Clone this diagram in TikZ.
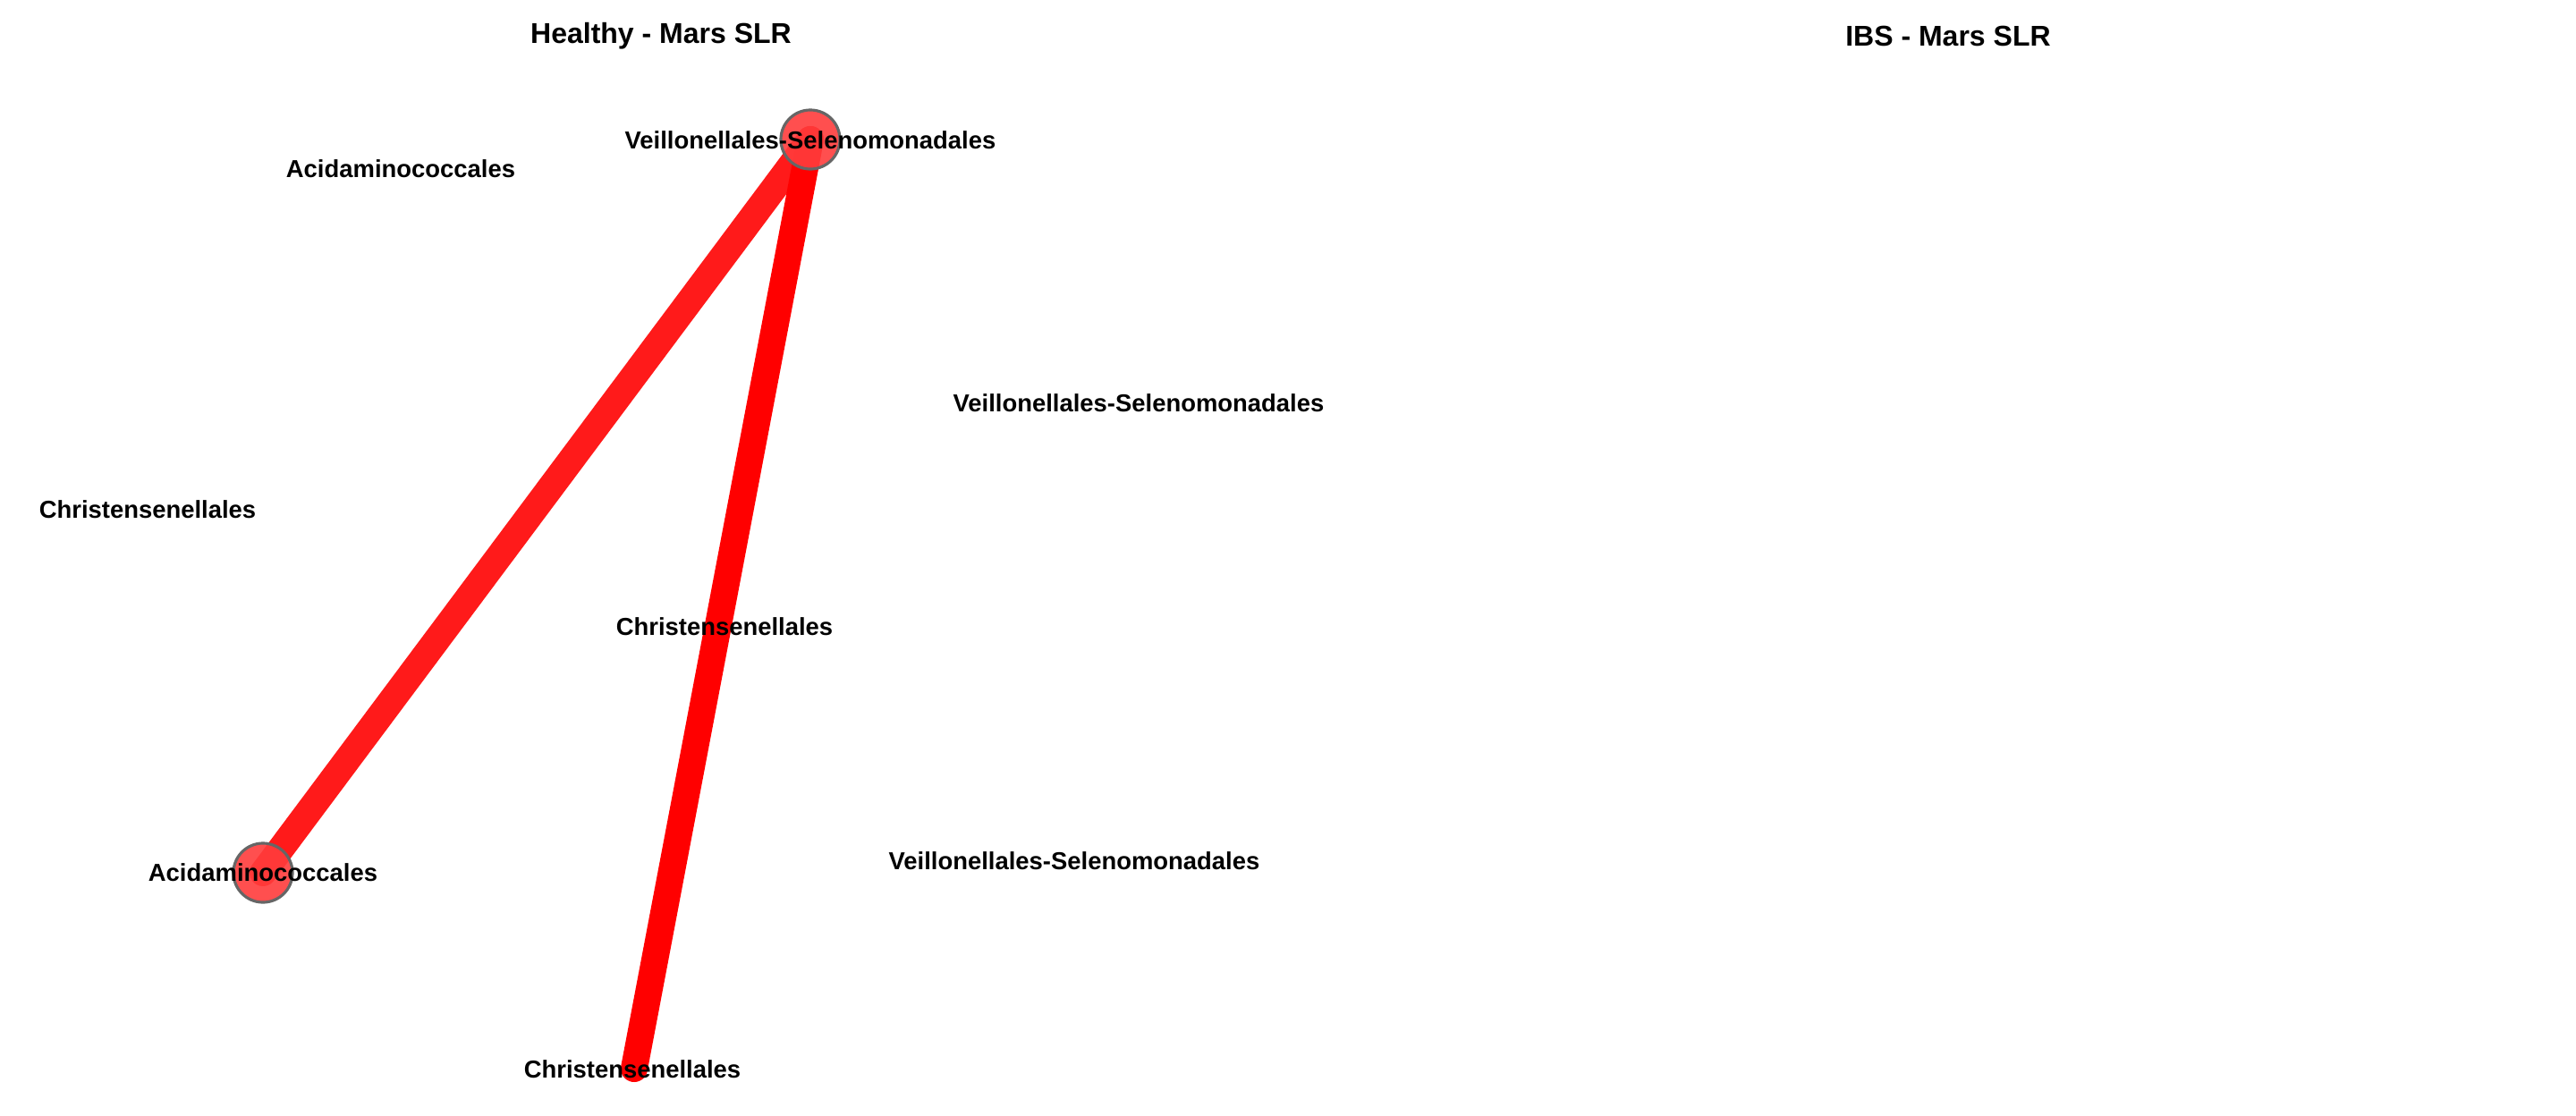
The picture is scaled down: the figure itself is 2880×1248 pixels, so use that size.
\documentclass[tikz,border=0pt]{standalone}
\usepackage{fontspec}
\setmainfont{Liberation Sans}
\definecolor{edgeA}{RGB}{255,26,26}
\definecolor{edgeB}{RGB}{255,0,0}
\definecolor{vfill}{RGB}{255,60,60}
\definecolor{vline}{RGB}{102,102,102}
\tikzset{
	lbl/.style={font=\fontsize{7.8}{9}\selectfont\bfseries,inner sep=0pt},
	ttl/.style={font=\fontsize{9.1}{11}\selectfont\bfseries,inner sep=0pt},
	vtx/.style={circle,draw=vline,line width=0.9pt,fill=vfill,fill opacity=0.9,minimum size=0.66cm,inner sep=0pt},
	lnk/.style={line width=0.3cm,line cap=round}
}
\begin{document}
\begin{tikzpicture}[x=0.01cm,y=-0.01cm]
	\useasboundingbox (0,0) rectangle (2880,1248);
	% vertex positions
	\coordinate (vs) at (906,156);
	\coordinate (ac) at (294,976);
	\coordinate (ch) at (709,1195);
	% edges
	\draw[lnk,color=edgeA] (ac) -- (vs);
	\draw[lnk,color=edgeB] (ch) -- (vs);
	% vertices
	\node[vtx] (vsdot) at (vs) {};
	\node[vtx] (acdot) at (ac) {};
	% titles
	\node[ttl] (t1) at (739,40) {Healthy - Mars SLR};
	\node[ttl] (t2) at (2178,40) {IBS - Mars SLR};
	% labels
	\node[lbl] (l1) at (906,157) {Veillonellales-Selenomonadales};
	\node[lbl] (l2) at (448,189) {Acidaminococcales};
	\node[lbl] (l3) at (1273,451) {Veillonellales-Selenomonadales};
	\node[lbl] (l4) at (165,570) {Christensenellales};
	\node[lbl] (l5) at (810,701) {Christensenellales};
	\node[lbl] (l6) at (294,976) {Acidaminococcales};
	\node[lbl] (l7) at (1201,963) {Veillonellales-Selenomonadales};
	\node[lbl] (l8) at (707,1196) {Christensenellales};
\end{tikzpicture}
\end{document}
